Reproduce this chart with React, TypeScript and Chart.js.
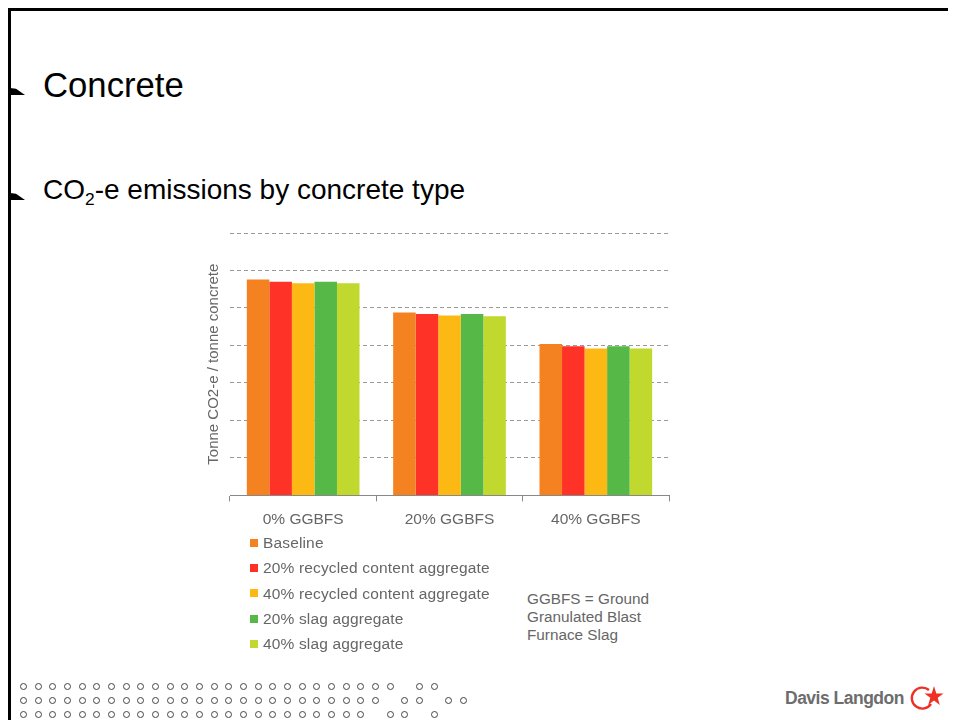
import { useEffect, useRef } from "react"
import { Chart, registerables } from "chart.js"

Chart.register(...registerables)

// chart data (tonne CO2-e per tonne concrete)
const categories = ["0% GGBFS", "20% GGBFS", "40% GGBFS"]
const seriesNames = [
  "Baseline",
  "20% recycled content aggregate",
  "40% recycled content aggregate",
  "20% slag aggregate",
  "40% slag aggregate",
]
const baseline = [0.288, 0.244, 0.202]
const recycled20 = [0.285, 0.242, 0.199]
const recycled40 = [0.283, 0.240, 0.196]
const slag20 = [0.285, 0.242, 0.199]
const slag40 = [0.283, 0.239, 0.196]
const seriesValues = [baseline, recycled20, recycled40, slag20, slag40]
const seriesColors = ["#f58220", "#ff3228", "#fdb913", "#56b847", "#c1d82f"]

const yMax = 0.35
const yStep = 0.05

const textGrey = "#666666"
const fontStack = "'Liberation Sans', Arial, sans-serif"

// decorative dot pattern in the footer (column indexes per row)
const range = (n: number) => Array.from({ length: n }, (_, i) => i)
const dotRows = [
  [...range(26), 27, 28],
  [...range(25), 26, 27, 29, 30],
  [...range(24), 25, 26, 28],
]

function EmissionsChart() {
  const canvasRef = useRef<HTMLCanvasElement>(null)
  const chartRef = useRef<Chart | null>(null)

  useEffect(() => {
    if (!canvasRef.current) return
    if (chartRef.current) chartRef.current.destroy()

    chartRef.current = new Chart(canvasRef.current, {
      type: "bar",
      data: {
        labels: categories,
        datasets: seriesNames.map((name, i) => ({
          label: name,
          data: seriesValues[i],
          backgroundColor: seriesColors[i],
          borderWidth: 0,
          categoryPercentage: 0.77,
          barPercentage: 1.0,
        })),
      },
      options: {
        animation: false,
        responsive: true,
        maintainAspectRatio: false,
        layout: { padding: { left: 8, top: 8, right: 7, bottom: 0 } },
        plugins: {
          legend: { display: false },
          tooltip: { enabled: false },
        },
        scales: {
          x: {
            grid: {
              display: true,
              drawOnChartArea: false,
              drawTicks: true,
              tickLength: 6,
              color: "#888888",
            },
            border: { display: true, color: "#888888", width: 1 },
            ticks: {
              color: textGrey,
              font: { family: fontStack, size: 15.5 },
              padding: 9,
            },
          },
          y: {
            min: 0,
            max: yMax,
            ticks: { display: false, stepSize: yStep },
            grid: { color: "#9a9a9a", drawTicks: false, tickLength: 0 },
            border: { display: false, dash: [4, 3] },
            title: {
              display: true,
              text: "Tonne CO2-e / tonne concrete",
              color: textGrey,
              font: { family: fontStack, size: 15 },
              padding: { top: 1, bottom: 7 },
            },
          },
        },
      },
    })

    return () => {
      if (chartRef.current) {
        chartRef.current.destroy()
        chartRef.current = null
      }
    }
  }, [])

  return (
    <div style={{ position: "absolute", left: 188, top: 217, width: 480, height: 313 }}>
      <canvas ref={canvasRef} />
    </div>
  )
}

function Bullet({ top }: { top: number }) {
  return (
    <div
      style={{
        position: "absolute",
        left: 2,
        top,
        width: 15,
        height: 7,
        background: "#000",
        clipPath: "polygon(0 0, 40% 10%, 100% 100%, 0 100%)",
      }}
    />
  )
}

function Logo() {
  return (
    <div style={{ position: "absolute", left: 777, top: 676, height: 28, display: "flex", alignItems: "center" }}>
      <span
        style={{
          fontFamily: fontStack,
          fontWeight: "bold",
          fontSize: 17.5,
          letterSpacing: -0.5,
          color: "#6d6d6d",
        }}
      >
        Davis Langdon
      </span>
      <svg width="38" height="28" viewBox="0 0 38 28" style={{ marginLeft: 2 }}>
        <path d="M23 6 A10.5 10.5 0 1 0 25 20" fill="none" stroke="#ee3124" strokeWidth="2.4" />
        <polygon
          points="28,2 30.3,9.5 37.5,9.5 31.7,13.8 33.8,21 28,16.6 22.2,21 24.3,13.8 18.5,9.5 25.7,9.5"
          fill="#ee3124"
        />
      </svg>
    </div>
  )
}

export default function App() {
  return (
    <div
      style={{
        position: "relative",
        width: 948,
        height: 712,
        overflow: "hidden",
        fontFamily: fontStack,
        background: "#fff",
      }}
    >
      {/* slide frame */}
      <div style={{ position: "absolute", left: 0, top: 0, width: 948, height: 2.5, background: "#000" }} />
      <div style={{ position: "absolute", left: 0, top: 0, width: 2.5, height: 712, background: "#000" }} />

      <Bullet top={80} />
      <div style={{ position: "absolute", left: 35, top: 60, fontSize: 34.7, lineHeight: "34.7px", color: "#000" }}>
        Concrete
      </div>

      <Bullet top={185} />
      <div
        style={{
          position: "absolute",
          left: 35,
          top: 168,
          fontSize: 28,
          lineHeight: "28px",
          color: "#000",
          whiteSpace: "nowrap",
        }}
      >
        CO
        <span style={{ fontSize: "0.62em", position: "relative", top: "0.32em" }}>2</span>
        -e emissions by concrete type
      </div>

      <EmissionsChart />

      {/* legend */}
      <div style={{ position: "absolute", left: 242, top: 522 }}>
        {seriesNames.map((name, i) => (
          <div
            key={name}
            style={{
              display: "flex",
              alignItems: "center",
              height: 25.3,
              lineHeight: "25.3px",
              fontSize: 15.5,
              letterSpacing: 0.15,
              color: textGrey,
              whiteSpace: "nowrap",
            }}
          >
            <span
              style={{ width: 8, height: 8, background: seriesColors[i], marginRight: 5, display: "inline-block" }}
            />
            {name}
          </div>
        ))}
      </div>

      {/* note */}
      <div
        style={{
          position: "absolute",
          left: 519,
          top: 581.5,
          fontSize: 15.3,
          lineHeight: "18.3px",
          color: textGrey,
        }}
      >
        GGBFS = Ground
        <br />
        Granulated Blast
        <br />
        Furnace Slag
      </div>

      {/* footer dots */}
      {dotRows.map((cols, r) =>
        cols.map((c) => (
          <div
            key={`${r}-${c}`}
            style={{
              position: "absolute",
              left: 12 + c * 14.67,
              top: 675 + r * 14,
              width: 5,
              height: 5,
              border: "1px solid #444",
              borderRadius: "50%",
              boxSizing: "content-box",
            }}
          />
        ))
      )}

      <Logo />
    </div>
  )
}
